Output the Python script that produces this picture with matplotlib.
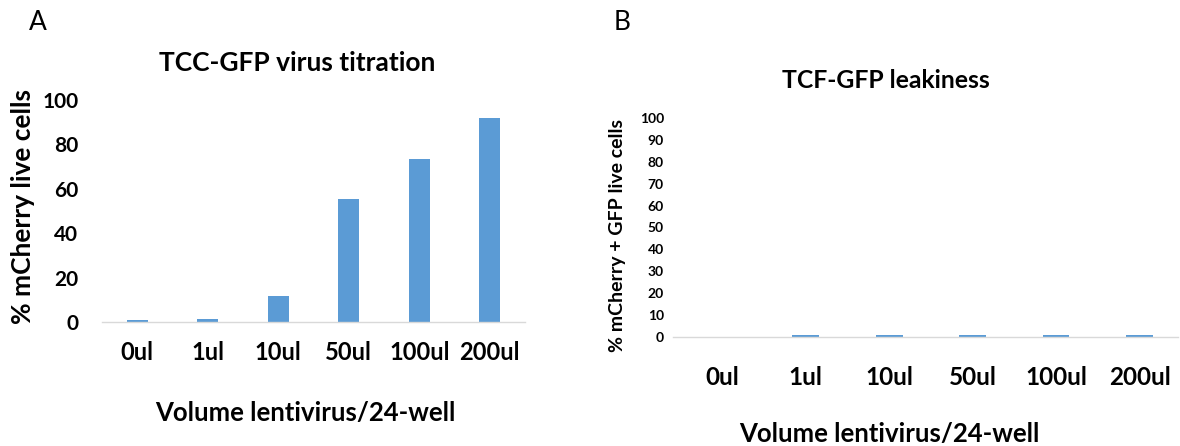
import matplotlib
matplotlib.use("Agg")
import matplotlib.pyplot as plt
import numpy as np

plt.rcParams["font.family"] = ["Lato", "DejaVu Sans"]

volumes = ["0ul", "1ul", "10ul", "50ul", "100ul", "200ul"]
pct_mcherry = [0.8, 1.4, 11.5, 55.2, 73.2, 91.8]
pct_mcherry_gfp = [0.0, 0.9, 0.9, 0.9, 0.9, 0.9]

BAR = "#5B9BD5"
AXIS = "#D9D9D9"

fig = plt.figure(figsize=(11.8, 4.46), dpi=100, facecolor="white")
W, H = 1180, 446


def px_axes(left, right, bottom, top):
    return fig.add_axes([left / W, 1 - bottom / H, (right - left) / W, (bottom - top) / H])


def fx(x, y):
    return x / W, 1 - y / H


def style(ax, xlim, step, ytick_fs, ypad, xtick_fs, xpad):
    ax.set_xlim(*xlim)
    ax.set_ylim(0, 100)
    ax.set_yticks(np.arange(0, 101, step))
    ax.set_xticks(np.arange(len(volumes)))
    ax.set_xticklabels(volumes, fontsize=xtick_fs, fontweight="bold")
    for sp in ["top", "right", "left"]:
        ax.spines[sp].set_visible(False)
    ax.spines["bottom"].set_color(AXIS)
    ax.spines["bottom"].set_linewidth(1.0)
    ax.tick_params(axis="both", length=0)
    ax.tick_params(axis="y", labelsize=ytick_fs, pad=ypad)
    ax.tick_params(axis="x", pad=xpad)
    for lbl in ax.get_yticklabels():
        lbl.set_fontweight("bold")


# panel A
axA = px_axes(102, 525, 322, 100)
axA.bar(np.arange(len(volumes)), pct_mcherry, width=0.3, color=BAR)
style(axA, (-0.5, 5.5), 20, 15, 17, 17, 14)
axA.set_ylabel("% mCherry live cells", fontsize=19, fontweight="bold", va="center")
axA.yaxis.set_label_coords(*fx(23, 207), transform=fig.transFigure)
axA.set_xlabel("Volume lentivirus/24-well", fontsize=18.5, fontweight="bold", va="center")
axA.xaxis.set_label_coords(*fx(305, 413), transform=fig.transFigure)
fig.text(*fx(297, 63), "TCC-GFP virus titration", fontsize=19, fontweight="bold",
         ha="center", va="center")
fig.text(*fx(38, 22), "A", fontsize=19, ha="center", va="center")

# panel B
axB = px_axes(673, 1178, 337, 118)
axB.bar(np.arange(len(volumes)), pct_mcherry_gfp, width=0.32, color=BAR)
style(axB, (-0.59, 5.46), 10, 10, 6.5, 17.5, 21)
axB.set_ylabel("% mCherry + GFP live cells", fontsize=14, fontweight="bold", va="center")
axB.yaxis.set_label_coords(*fx(618, 236), transform=fig.transFigure)
axB.set_xlabel("Volume lentivirus/24-well", fontsize=18.5, fontweight="bold", va="center")
axB.xaxis.set_label_coords(*fx(889, 434), transform=fig.transFigure)
fig.text(*fx(886, 81), "TCF-GFP leakiness", fontsize=17.8, fontweight="bold",
         ha="center", va="center")
fig.text(*fx(622, 22), "B", fontsize=19, ha="center", va="center")

fig.savefig("out.png", dpi=100, facecolor="white")
